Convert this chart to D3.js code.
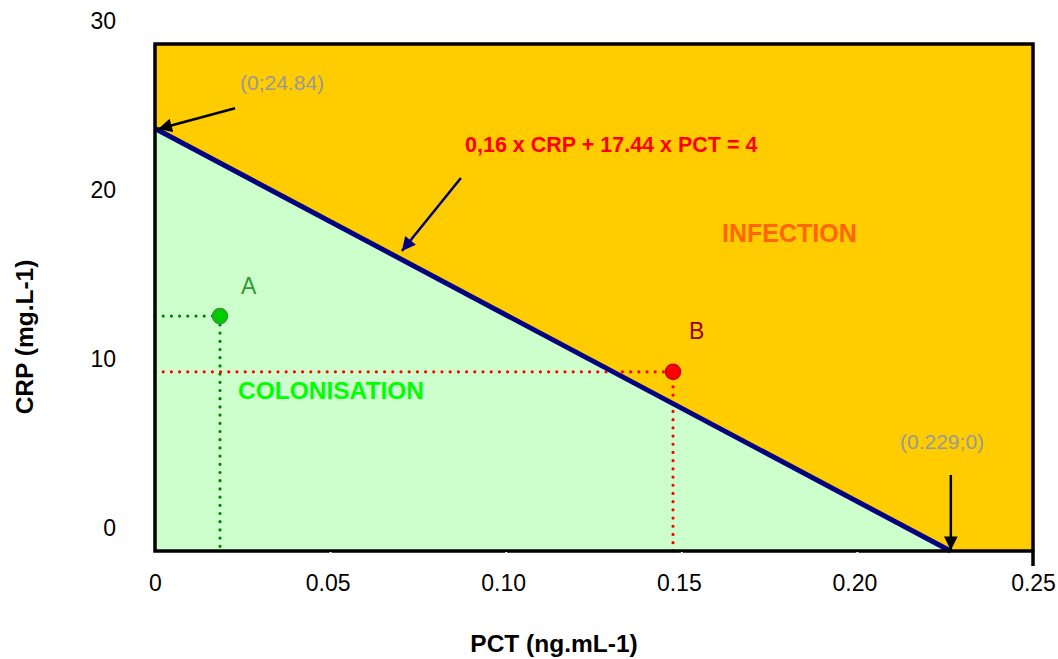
<!DOCTYPE html>
<html><head><meta charset="utf-8">
<script src="https://cdn.jsdelivr.net/npm/d3@7"></script>
<style>body{margin:0;background:#fff}svg{display:block;font-family:"Liberation Sans",Arial,sans-serif}</style>
</head><body><svg id="c" width="1058" height="659"></svg>
<script>
const xTicks = [0, 0.05, 0.10, 0.15, 0.20, 0.25];
const xTickLabels = ["0", "0.05", "0.10", "0.15", "0.20", "0.25"];
const yTicks = [0, 10, 20, 30];
const yTickLabels = ["0", "10", "20", "30"];
const lineX = [0, 0.2265];
const lineY = [25.0, 0];
const pointNames = ["A", "B"];
const pointPCT = [0.0185, 0.1475];
const pointCRP = [13.9, 10.6];
const xTitle = "PCT (ng.mL-1)";
const yTitle = "CRP (mg.L-1)";

const svg = d3.select("#c");
const L = 155, R = 1033, T = 44, B = 551;
const x = d3.scaleLinear().domain([0, 0.25]).range([L, R]);
const y = d3.scaleLinear().domain([0, 30]).range([B, T]);
const FF = "Liberation Sans, Arial, sans-serif";

const defs = svg.append("defs");
function marker(id, color) {
  defs.append("marker").attr("id", id).attr("viewBox", "0 0 10 10")
    .attr("refX", 10).attr("refY", 5).attr("markerWidth", 6).attr("markerHeight", 5.5)
    .attr("markerUnits", "strokeWidth").attr("orient", "auto")
    .append("path").attr("d", "M0,0L10,5L0,10z").attr("fill", color);
}
marker("ab", "#000");
marker("an", "#000080");

// background regions
svg.append("rect").attr("x", L).attr("y", T).attr("width", R - L).attr("height", B - T).attr("fill", "#FFCC00");
svg.append("path").attr("fill", "#CCFFCC")
  .attr("d", `M${x(0)},${y(0)}L${x(lineX[0])},${y(lineY[0])}L${x(lineX[1])},${y(lineY[1])}Z`);

// dotted guide lines
const dotColors = ["#008000", "#FF0000"];
pointNames.forEach((n, i) => {
  svg.append("path").attr("d", `M${x(0)},${y(pointCRP[i])}L${x(pointPCT[i])},${y(pointCRP[i])}L${x(pointPCT[i])},${y(0)}`)
    .attr("fill", "none").attr("stroke", dotColors[i]).attr("stroke-width", 3.2)
    .attr("stroke-linecap", "round").attr("stroke-dasharray", "0 8.2");
});

// boundary line
svg.append("line").attr("x1", x(lineX[0])).attr("y1", y(lineY[0])).attr("x2", x(lineX[1])).attr("y2", y(lineY[1]))
  .attr("stroke", "#000080").attr("stroke-width", 5);

// frame
svg.append("rect").attr("x", L).attr("y", T).attr("width", R - L).attr("height", B - T)
  .attr("fill", "none").attr("stroke", "#000").attr("stroke-width", 3.5);
svg.append("line").attr("x1", R).attr("x2", R).attr("y1", B).attr("y2", 566).attr("stroke", "#000").attr("stroke-width", 3.5);
svg.selectAll(".nt").data(xTicks.slice(1, -1)).enter().append("line")
  .attr("x1", d => x(d)).attr("x2", d => x(d)).attr("y1", B + 1).attr("y2", B + 4)
  .attr("stroke", "#fff").attr("stroke-width", 2);

// points
const pFill = ["#00CC00", "#FF0000"], pStroke = ["#339933", "#CC0000"];
pointNames.forEach((n, i) => {
  svg.append("circle").attr("cx", x(pointPCT[i])).attr("cy", y(pointCRP[i])).attr("r", 7.5)
    .attr("fill", pFill[i]).attr("stroke", pStroke[i]).attr("stroke-width", 1.5);
});

// axes labels (d3 axes, domain hidden)
const xAxis = svg.append("g").attr("transform", `translate(-3,${B})`)
  .call(d3.axisBottom(x).tickValues(xTicks).tickFormat((d, i) => xTickLabels[i]).tickSize(0).tickPadding(24));
xAxis.select(".domain").remove();
xAxis.attr("font-size", 23).attr("font-family", FF);
xAxis.selectAll("text").attr("fill", "#000");
xAxis.selectAll("text").filter((d, i) => i === 0 || i === xTicks.length - 1).attr("dx", 3);

const yAxis = svg.append("g").attr("transform", `translate(116,-23)`)
  .call(d3.axisLeft(y).tickValues(yTicks).tickFormat((d, i) => yTickLabels[i]).tickSize(0).tickPadding(0));
yAxis.select(".domain").remove();
yAxis.attr("font-size", 23).attr("font-family", FF);
yAxis.selectAll("text").attr("fill", "#000");

svg.append("text").attr("x", 554).attr("y", 652).attr("text-anchor", "middle")
  .attr("font-size", 24.5).attr("font-weight", "bold").text(xTitle);
svg.append("text").attr("transform", "translate(33,337) rotate(-90)").attr("text-anchor", "middle")
  .attr("font-size", 24.5).attr("font-weight", "bold").text(yTitle);

// arrows
svg.append("line").attr("x1", x(0.0228)).attr("y1", y(26.2)).attr("x2", x(0.0009)).attr("y2", y(24.97))
  .attr("stroke", "#000").attr("stroke-width", 2.5).attr("marker-end", "url(#ab)");
svg.append("line").attr("x1", x(0.0871)).attr("y1", y(22.07)).attr("x2", x(0.0703)).attr("y2", y(17.75))
  .attr("stroke", "#000080").attr("stroke-width", 2.5).attr("marker-end", "url(#an)");
svg.append("line").attr("x1", x(0.2266)).attr("y1", y(4.5)).attr("x2", x(0.2266)).attr("y2", y(0.05))
  .attr("stroke", "#000").attr("stroke-width", 2.5).attr("marker-end", "url(#ab)");

// annotations
function txt(t, xx, yy, size, color, bold) {
  svg.append("text").attr("x", xx).attr("y", yy).attr("font-size", size).attr("fill", color)
    .attr("font-weight", bold ? "bold" : "normal").attr("dominant-baseline", "central").text(t);
}
txt("(0;24.84)", 240, 82, 21, "#999999", false);
txt("0,16 x CRP + 17.44 x PCT = 4", 465, 145, 21.5, "#FF0000", true);
txt("INFECTION", 722, 233, 25, "#FF6600", true);
txt(pointNames[0], 241, 286, 23, "#339933", false);
txt(pointNames[1], 689, 331, 23, "#990000", false);
txt("COLONISATION", 238, 390, 24.5, "#00FF00", true);
txt("(0.229;0)", 900, 441, 21, "#999999", false);
</script></body></html>
